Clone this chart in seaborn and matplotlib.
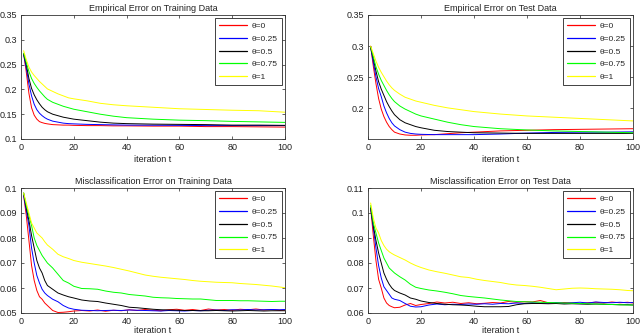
import numpy as np
import pandas as pd
import matplotlib
matplotlib.use('Agg')
import matplotlib.pyplot as plt
import seaborn as sns

# ---------------------------------------------------------------
# data (4 panels x 5 theta settings)
# ---------------------------------------------------------------
ITER_SMOOTH = [1, 2, 3, 4, 5, 6, 7, 8, 9, 10, 12, 14, 16, 18, 20,
               25, 30, 35, 40, 50, 60, 70, 80, 90, 100]
ITER_NOISY = [1, 2, 3, 4, 5, 6, 7, 8, 9, 10, 12, 14, 16, 18, 20,
              23, 26, 29, 32, 35, 38, 41, 44, 47, 50, 53, 56, 59, 62,
              65, 68, 71, 74, 77, 80, 83, 86, 89, 92, 95, 98, 100]

THETA_LABELS = ['θ=0', 'θ=0.25', 'θ=0.5', 'θ=0.75', 'θ=1']
LINE_COLORS = ['#ff0000', '#0000ff', '#000000', '#00ff00', '#ffff00']

# Empirical error, training data
emp_train_0 = [0.272, 0.235, 0.192, 0.163, 0.148, 0.140, 0.135, 0.133, 0.1315, 0.1305, 0.129, 0.1285, 0.128,
               0.128, 0.1275, 0.127, 0.127, 0.1265, 0.1265, 0.126, 0.126, 0.125, 0.125, 0.1245, 0.124]
emp_train_025 = [0.270, 0.243, 0.211, 0.187, 0.170, 0.159, 0.152, 0.147, 0.143, 0.140, 0.136, 0.134, 0.132,
                 0.131, 0.1305, 0.1295, 0.129, 0.1285, 0.128, 0.1278, 0.1275, 0.127, 0.127, 0.127, 0.127]
emp_train_05 = [0.271, 0.250, 0.222, 0.202, 0.189, 0.179, 0.171, 0.164, 0.159, 0.155, 0.150, 0.147, 0.144,
                0.142, 0.140, 0.137, 0.134, 0.132, 0.131, 0.130, 0.1295, 0.129, 0.128, 0.128, 0.1275]
emp_train_075 = [0.273, 0.254, 0.236, 0.222, 0.212, 0.204, 0.197, 0.191, 0.185, 0.180, 0.174, 0.170, 0.166,
                 0.163, 0.160, 0.155, 0.150, 0.146, 0.143, 0.140, 0.138, 0.137, 0.1355, 0.1345, 0.1335]
emp_train_1 = [0.278, 0.260, 0.245, 0.235, 0.228, 0.222, 0.216, 0.211, 0.206, 0.201, 0.196, 0.191, 0.187,
               0.183, 0.181, 0.177, 0.172, 0.169, 0.167, 0.164, 0.161, 0.1595, 0.158, 0.157, 0.154]

# Empirical error, test data
emp_test_0 = [0.300, 0.268, 0.240, 0.216, 0.199, 0.187, 0.178, 0.171, 0.166, 0.162, 0.159, 0.1575, 0.157,
              0.157, 0.1575, 0.158, 0.1595, 0.161, 0.162, 0.164, 0.165, 0.166, 0.1665, 0.167, 0.1675]
emp_test_025 = [0.298, 0.274, 0.251, 0.232, 0.219, 0.204, 0.193, 0.184, 0.177, 0.172, 0.166, 0.162, 0.160,
                0.159, 0.1585, 0.158, 0.158, 0.158, 0.158, 0.159, 0.1605, 0.1615, 0.162, 0.162, 0.1625]
emp_test_05 = [0.298, 0.280, 0.260, 0.243, 0.231, 0.221, 0.211, 0.203, 0.196, 0.190, 0.182, 0.177, 0.174,
               0.171, 0.169, 0.165, 0.163, 0.162, 0.161, 0.1605, 0.160, 0.160, 0.160, 0.160, 0.160]
emp_test_075 = [0.299, 0.283, 0.267, 0.255, 0.245, 0.237, 0.229, 0.222, 0.216, 0.211, 0.204, 0.199, 0.195,
                0.191, 0.188, 0.183, 0.178, 0.174, 0.171, 0.1675, 0.1655, 0.164, 0.163, 0.162, 0.161]
emp_test_1 = [0.300, 0.288, 0.276, 0.266, 0.258, 0.251, 0.244, 0.238, 0.233, 0.229, 0.223, 0.218, 0.215,
              0.212, 0.210, 0.205, 0.201, 0.198, 0.195, 0.191, 0.188, 0.186, 0.184, 0.182, 0.180]

# Misclassification error, training data
mis_train_0 = [0.097, 0.089, 0.079, 0.069, 0.063, 0.059, 0.0565, 0.0555, 0.054, 0.053, 0.051, 0.0502, 0.0503,
               0.0505, 0.0508, 0.0510, 0.0508, 0.0512, 0.0507, 0.0511, 0.0509, 0.0513, 0.0510, 0.0514,
               0.0511, 0.0509, 0.0513, 0.0515, 0.0511, 0.0514, 0.0510, 0.0516, 0.0512, 0.0514, 0.0511,
               0.0515, 0.0513, 0.0516, 0.0512, 0.0514, 0.0511, 0.0512]
mis_train_025 = [0.097, 0.091, 0.085, 0.076, 0.070, 0.065, 0.062, 0.0595, 0.058, 0.057, 0.0555, 0.0545, 0.053,
                 0.052, 0.0515, 0.0511, 0.0510, 0.0509, 0.0510, 0.0511, 0.0510, 0.0512, 0.0511, 0.0510,
                 0.0509, 0.0508, 0.0510, 0.0509, 0.0508, 0.0510, 0.0509, 0.0511, 0.0512, 0.0510, 0.0513,
                 0.0512, 0.0514, 0.0512, 0.0513, 0.0514, 0.0513, 0.0514]
mis_train_05 = [0.098, 0.092, 0.087, 0.081, 0.076, 0.071, 0.068, 0.066, 0.063, 0.061, 0.0595, 0.058, 0.0572,
                0.0565, 0.056, 0.0552, 0.0548, 0.0546, 0.0540, 0.0535, 0.0530, 0.0523, 0.0521, 0.0518,
                0.0515, 0.0513, 0.0512, 0.0511, 0.0510, 0.0510, 0.0509, 0.0509, 0.0510, 0.0509, 0.0508,
                0.0509, 0.0510, 0.0509, 0.0508, 0.0509, 0.0509, 0.0509]
mis_train_075 = [0.098, 0.093, 0.089, 0.085, 0.080, 0.077, 0.075, 0.073, 0.0715, 0.070, 0.068, 0.0655, 0.063,
                 0.062, 0.0607, 0.0598, 0.0597, 0.0595, 0.0588, 0.0583, 0.0580, 0.0574, 0.0571, 0.0568,
                 0.0563, 0.0561, 0.0560, 0.0558, 0.0557, 0.0556, 0.0556, 0.0553, 0.0550, 0.0550, 0.0550,
                 0.0549, 0.0549, 0.0548, 0.0547, 0.0546, 0.0547, 0.0547]
mis_train_1 = [0.098, 0.094, 0.090, 0.086, 0.084, 0.082, 0.081, 0.080, 0.0785, 0.0772, 0.0755, 0.0735, 0.0725,
               0.0718, 0.0710, 0.0703, 0.0698, 0.0693, 0.0688, 0.0682, 0.0675, 0.0668, 0.0660, 0.0652,
               0.0647, 0.0643, 0.0640, 0.0637, 0.0634, 0.0630, 0.0627, 0.0625, 0.0623, 0.0622, 0.0621,
               0.0618, 0.0616, 0.0614, 0.0611, 0.0608, 0.0604, 0.0601]

# Misclassification error, test data
mis_test_0 = [0.102, 0.091, 0.081, 0.0735, 0.070, 0.066, 0.064, 0.063, 0.0625, 0.0621, 0.0623, 0.0632, 0.0638,
              0.0630, 0.0634, 0.0638, 0.0644, 0.0640, 0.0643, 0.0638, 0.0641, 0.0637, 0.0639, 0.0642,
              0.0640, 0.0646, 0.0643, 0.0645, 0.0644, 0.0650, 0.0641, 0.0639, 0.0642, 0.0640, 0.0638,
              0.0641, 0.0643, 0.0640, 0.0644, 0.0641, 0.0643, 0.0640]
mis_test_025 = [0.102, 0.094, 0.086, 0.079, 0.074, 0.0705, 0.069, 0.0675, 0.066, 0.0655, 0.065, 0.0638, 0.0627,
                0.0624, 0.0625, 0.0632, 0.0636, 0.0633, 0.0635, 0.0634, 0.0636, 0.0635, 0.0637, 0.0635,
                0.0638, 0.0637, 0.0640, 0.0638, 0.0641, 0.0639, 0.0640, 0.0642, 0.0639, 0.0641, 0.0643,
                0.0640, 0.0644, 0.0642, 0.0641, 0.0643, 0.0641, 0.0642]
mis_test_05 = [0.102, 0.095, 0.089, 0.084, 0.080, 0.076, 0.0735, 0.0715, 0.070, 0.069, 0.068, 0.0672, 0.066,
               0.0655, 0.0648, 0.0642, 0.0638, 0.0635, 0.0633, 0.0632, 0.0630, 0.0627, 0.0625, 0.0625,
               0.0625, 0.0626, 0.0633, 0.0637, 0.0638, 0.0638, 0.0637, 0.0638, 0.0636, 0.0637, 0.0636,
               0.0635, 0.0636, 0.0635, 0.0634, 0.0633, 0.0633, 0.0632]
mis_test_075 = [0.103, 0.096, 0.092, 0.088, 0.085, 0.082, 0.080, 0.078, 0.077, 0.076, 0.0745, 0.0732, 0.0715,
                0.0703, 0.0698, 0.0692, 0.0688, 0.0683, 0.0677, 0.0670, 0.0666, 0.0663, 0.0660, 0.0656,
                0.0652, 0.0649, 0.0646, 0.0645, 0.0644, 0.0643, 0.0642, 0.0641, 0.0640, 0.0639, 0.0638,
                0.0637, 0.0636, 0.0635, 0.0634, 0.0633, 0.0632, 0.0632]
mis_test_1 = [0.104, 0.098, 0.094, 0.092, 0.089, 0.087, 0.0855, 0.0845, 0.0838, 0.0832, 0.0822, 0.0812, 0.0800,
              0.0790, 0.0782, 0.0772, 0.0765, 0.0759, 0.0752, 0.0745, 0.0742, 0.0735, 0.0730, 0.0726,
              0.0722, 0.0716, 0.0712, 0.0710, 0.0707, 0.0703, 0.0698, 0.0693, 0.0696, 0.0699, 0.0700,
              0.0699, 0.0697, 0.0696, 0.0695, 0.0693, 0.0690, 0.0689]

# ---------------------------------------------------------------
# style
# ---------------------------------------------------------------
sns.set_style('ticks')
plt.rcParams['font.family'] = ['Liberation Sans', 'DejaVu Sans']
plt.rcParams['axes.linewidth'] = 0.6

W, H = 640, 335
fig = plt.figure(figsize=(W / 100, H / 100), dpi=100)


def px_axes(left, top, right, bottom):
    # axes rectangle given in pixel coords of the reference picture
    return fig.add_axes([left / W, 1 - bottom / H, (right - left) / W, (bottom - top) / H])


panels = [
    ('Empirical Error on Training Data', ITER_SMOOTH,
     [emp_train_0, emp_train_025, emp_train_05, emp_train_075, emp_train_1],
     (0.1, 0.35), [0.1, 0.15, 0.2, 0.25, 0.3, 0.35], (21, 15, 285, 139)),
    ('Empirical Error on Test Data', ITER_SMOOTH,
     [emp_test_0, emp_test_025, emp_test_05, emp_test_075, emp_test_1],
     (0.151, 0.35), [0.2, 0.25, 0.3, 0.35], (368, 15, 633, 139)),
    ('Misclassification Error on Training Data', ITER_NOISY,
     [mis_train_0, mis_train_025, mis_train_05, mis_train_075, mis_train_1],
     (0.05, 0.1), [0.05, 0.06, 0.07, 0.08, 0.09, 0.1], (21, 188, 285, 313)),
    ('Misclassification Error on Test Data', ITER_NOISY,
     [mis_test_0, mis_test_025, mis_test_05, mis_test_075, mis_test_1],
     (0.06, 0.11), [0.06, 0.07, 0.08, 0.09, 0.1, 0.11], (368, 188, 633, 313)),
]

for k, (title, iters, series, ylim, yticks, box) in enumerate(panels):
    ax = px_axes(*box)

    frames = []
    for label, vals in zip(THETA_LABELS, series):
        assert len(vals) == len(iters), title
        frames.append(pd.DataFrame({'iteration': iters, 'error': vals, 'theta': label}))
    df = pd.concat(frames, ignore_index=True)

    sns.lineplot(data=df, x='iteration', y='error', hue='theta',
                 hue_order=THETA_LABELS, palette=LINE_COLORS,
                 linewidth=0.7, ax=ax)

    ax.set_xlim(0, 100)
    ax.set_ylim(*ylim)
    ax.set_xticks([0, 20, 40, 60, 80, 100])
    ax.set_yticks(yticks)
    ax.set_yticklabels([f'{v:g}' for v in yticks])
    ax.tick_params(direction='in', top=True, right=True, length=2.5, width=0.5,
                   labelsize=6.5, pad=3, colors='#222222')
    for sp in ax.spines.values():
        sp.set_visible(True)
        sp.set_color('#333333')
        sp.set_linewidth(0.6)

    ax.set_title(title, fontsize=6.5, pad=3, color='#222222')
    # bottom row: keep the x label just inside the figure edge
    ax.set_xlabel('iteration t', fontsize=6.5, labelpad=2 if k < 2 else 0,
                  color='#222222')
    ax.set_ylabel('')

    leg = ax.legend(loc='upper right', fontsize=6, frameon=True, fancybox=False,
                    handlelength=3.4, handletextpad=0.6, labelspacing=0.6,
                    borderpad=0.45, borderaxespad=0.4)
    leg.get_frame().set_edgecolor('#222222')
    leg.get_frame().set_linewidth(0.6)
    leg.get_frame().set_alpha(1)
    for line in leg.get_lines():
        line.set_linewidth(0.9)

fig.savefig('out.png', dpi=100)
